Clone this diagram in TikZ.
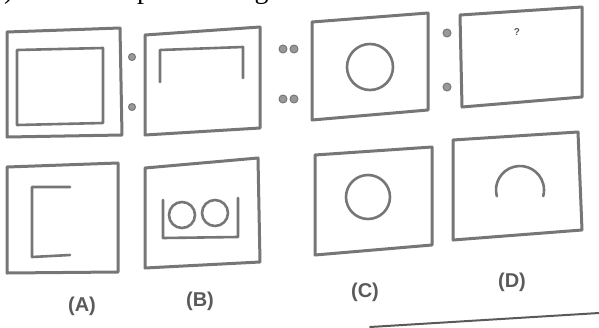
\documentclass[tikz,border=0pt]{standalone}
\usepackage{fontspec}
\setmainfont{Liberation Serif}
\setsansfont{Liberation Sans}
\usepackage{tikz}
\definecolor{figgray}{RGB}{118,118,118}
\definecolor{labgray}{RGB}{90,90,90}

\begin{document}
\begin{tikzpicture}[x=1pt, y=-1pt, line join=round, line cap=round,
  fig/.style={draw=figgray, line width=3pt},
  inner/.style={draw=figgray, line width=2.6pt},
  dot/.style={draw=figgray, fill=figgray!75, line width=1pt},
  optlabel/.style={font=\sffamily\bfseries\fontsize{20}{22}\selectfont, text=labgray}]
\useasboundingbox (0,0) rectangle (599,327);
\clip (0,0) rectangle (599,327);
\node[anchor=base west, inner sep=0pt, font=\fontsize{28}{30}\selectfont] (heading) at (-10,-1.5) {y) Select the problem figure};

\draw[fig] (7,32) -- (120,28) -- (122,135) -- (7,137) -- cycle;
\draw[inner] (17,50) -- (103,48) -- (103,123) -- (17,125) -- cycle;
\draw[dot] (132,57) circle (3.5);
\draw[dot] (132,107) circle (3.5);

\draw[fig] (145,35) -- (260,27) -- (260,128) -- (145,135) -- cycle;
\draw[inner] (160,82) -- (160,50) -- (243,47) -- (243,78);
\draw[dot] (283,49) circle (4);
\draw[dot] (294,49) circle (4);
\draw[dot] (283,99) circle (4);
\draw[dot] (294,99) circle (4);

\draw[fig] (312,22) -- (428,13) -- (428,110) -- (312,120) -- cycle;
\draw[inner] (370,67) circle (23);
\draw[dot] (447,33) circle (4);
\draw[dot] (447,87) circle (4);

\draw[fig] (460,15) -- (582,7) -- (582,97) -- (462,107) -- cycle;
\node[font=\sffamily\bfseries\normalsize, text=labgray] (qmark) at (517,32) {?};

\draw[fig] (7,167) -- (118,163) -- (118,272) -- (7,273) -- cycle;
\draw[inner] (70,187) -- (32,187) -- (32,257) -- (70,255);

\draw[fig] (145,168) -- (258,158) -- (260,262) -- (145,268) -- cycle;
\draw[inner] (163,200) -- (163,238) -- (238,237) -- (238,198);
\draw[inner] (182,215) circle (13);
\draw[inner] (215,213) circle (13);

\draw[fig] (315,155) -- (432,147) -- (432,245) -- (315,255) -- cycle;
\draw[inner] (368,197) circle (22);

\draw[fig] (453,140) -- (578,132) -- (582,230) -- (453,240) -- cycle;
\draw[inner] (520,190) ++(165:24) arc[start angle=165, end angle=375, radius=24];

\node[optlabel] (labA) at (82,306) {(A)};
\node[optlabel] (labB) at (200,301) {(B)};
\node[optlabel] (labC) at (365,292) {(C)};
\node[optlabel] (labD) at (512,282) {(D)};

\draw[labgray, line width=2pt] (370,327) -- (599,313);
\end{tikzpicture}
\end{document}
